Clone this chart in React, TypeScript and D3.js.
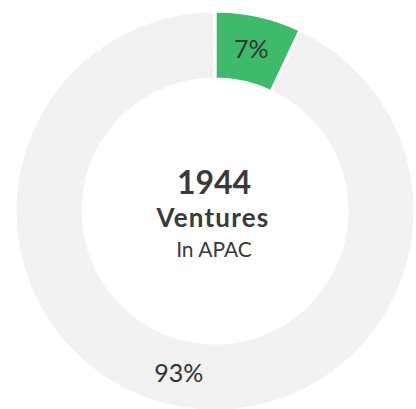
import React from "react";
import * as d3 from "d3";

const labels = ["APAC", "Other"];
const shares = [7, 93];
const colors = ["#3dba6a", "#f1f1f1"];
const total = "1944";
const title = "Ventures";
const subtitle = "In APAC";

const width = 416;
const height = 409;
const cx = 215;
const cy = 211;
const outerRadius = 200;
const innerRadius = 132;

const App = () => {
  const pie = d3
    .pie<number>()
    .value(d => d)
    .sort(null);
  const arc = d3
    .arc<d3.PieArcDatum<number>>()
    .innerRadius(innerRadius)
    .outerRadius(outerRadius);
  const labelArc = d3
    .arc<d3.PieArcDatum<number>>()
    .innerRadius((innerRadius + outerRadius) / 2)
    .outerRadius((innerRadius + outerRadius) / 2);
  const slices = pie(shares);
  const font = "Lato, 'Open Sans', sans-serif";

  return (
    <svg
      width={width}
      height={height}
      style={{ position: "absolute", left: 0, top: 0, display: "block" }}
    >
      <g transform={`translate(${cx},${cy})`}>
        {slices.map((d, i) => (
          <g key={labels[i]}>
            <path d={arc(d) || ""} fill={colors[i]} stroke="#fff" strokeWidth={3} />
            <text
              transform={`translate(${labelArc.centroid(d)})`}
              textAnchor="middle"
              dy="0.36em"
              fill="#333"
              fontFamily={font}
              fontSize={25}
            >
              {d.data}%
            </text>
          </g>
        ))}
        <text x={-1} y={-17} textAnchor="middle" fill="#3a3a3a" fontFamily={font} fontWeight="bold" fontSize={32}>
          {total}
        </text>
        <text x={-2} y={16} textAnchor="middle" fill="#3a3a3a" fontFamily={font} fontWeight="bold" fontSize={26} letterSpacing={1.2}>
          {title}
        </text>
        <text x={-1} y={46} textAnchor="middle" fill="#3a3a3a" fontFamily={font} fontSize={21}>
          {subtitle}
        </text>
      </g>
    </svg>
  );
};

export default App;
